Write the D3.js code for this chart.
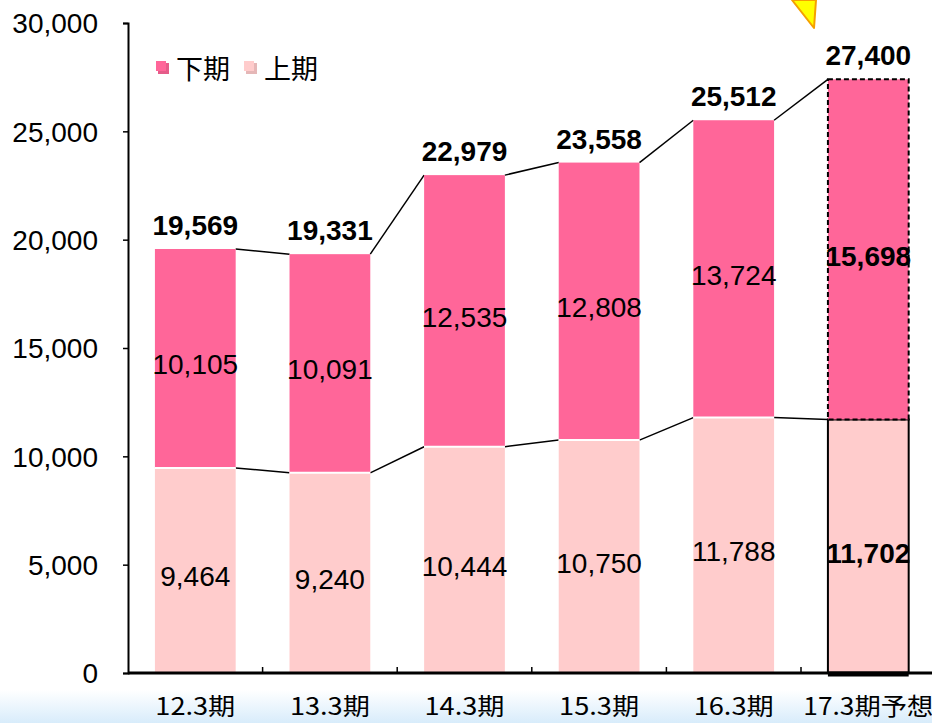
<!DOCTYPE html>
<html><head><meta charset="utf-8">
<script src="https://cdn.jsdelivr.net/npm/d3@7"></script>
<style>html,body{margin:0;padding:0;background:#fff;}svg{display:block;}</style>
</head><body>
<svg id="c" width="932" height="723"></svg>
<script>
const categories = ["12.3期","13.3期","14.3期","15.3期","16.3期","17.3期予想"];
const firstHalf  = [9464, 9240, 10444, 10750, 11788, 11702];   // 上期
const secondHalf = [10105, 10091, 12535, 12808, 13724, 15698]; // 下期
const totals     = [19569, 19331, 22979, 23558, 25512, 27400];
const yTicks = [0, 5000, 10000, 15000, 20000, 25000, 30000];
const legendNames = ["下期", "上期"];

(function(){
const W = 932, H = 723;
const svg = d3.select("#c");
const defs = svg.append("defs");
const grad = defs.append("linearGradient").attr("id","bg").attr("x1",0).attr("y1",0).attr("x2",0).attr("y2",1);
grad.append("stop").attr("offset","0").attr("stop-color","#ffffff");
grad.append("stop").attr("offset","1").attr("stop-color","#d8ecfb");
svg.append("rect").attr("x",0).attr("y",690).attr("width",W).attr("height",33).attr("fill","url(#bg)");

const mLeft = 128, mBottom = 673, mTop = 23;
const x = d3.scaleBand().domain(categories).range([mLeft, mLeft + 6*134.6]).paddingInner(0.4).paddingOuter(0.2);
const y = d3.scaleLinear().domain([0, 30000]).range([mBottom, mTop]);

const C2 = "#ff6699", C1 = "#ffcccc";
const numFont = "'Liberation Sans', Arial, sans-serif";
const jpFont = "'Noto Sans CJK JP', sans-serif";
const fmt = d3.format(",");

// Connecting lines
const lineG = svg.append("g").attr("stroke","#000").attr("stroke-width",1.5).attr("fill","none");
for (let i = 0; i < categories.length - 1; i++) {
  const x1 = x(categories[i]) + x.bandwidth(), x2 = x(categories[i+1]);
  lineG.append("line").attr("x1",x1).attr("x2",x2).attr("y1",y(totals[i])).attr("y2",y(totals[i+1]));
  lineG.append("line").attr("x1",x1).attr("x2",x2).attr("y1",y(firstHalf[i])).attr("y2",y(firstHalf[i+1]));
}

// Bars
const n = categories.length;
categories.forEach((c, i) => {
  const last = i === n - 1;
  const bx = x(c), bw = x.bandwidth();
  svg.append("rect").attr("x",bx).attr("y",y(firstHalf[i])).attr("width",bw)
    .attr("height",y(0)-y(firstHalf[i])).attr("fill",C1)
    .attr("stroke", last ? "#000" : "none").attr("stroke-width",2);
  svg.append("rect").attr("x",bx).attr("y",y(totals[i])).attr("width",bw)
    .attr("height",y(firstHalf[i])-y(totals[i])).attr("fill",C2)
    .attr("stroke", last ? "#000" : "none").attr("stroke-width",2)
    .attr("stroke-dasharray", last ? "5,3" : null);
  if (!last) {
    svg.append("line").attr("x1",bx).attr("x2",bx+bw).attr("y1",y(firstHalf[i])).attr("y2",y(firstHalf[i]))
      .attr("stroke","#fff").attr("stroke-width",2);
  }
  const cx = bx + bw/2;
  const off = last ? 17 : 16;
  svg.append("text").attr("x",cx).attr("y",(y(0)+y(firstHalf[i]))/2 + off)
    .attr("text-anchor","middle").attr("font-family",numFont).attr("font-size",28)
    .attr("font-weight", last ? "bold" : "normal").attr("fill","#000").text(fmt(firstHalf[i]));
  svg.append("text").attr("x",cx).attr("y",(y(firstHalf[i])+y(totals[i]))/2 + off)
    .attr("text-anchor","middle").attr("font-family",numFont).attr("font-size",28)
    .attr("font-weight", last ? "bold" : "normal").attr("fill","#000").text(fmt(secondHalf[i]));
  svg.append("text").attr("x",cx).attr("y",y(totals[i]) - 14)
    .attr("text-anchor","middle").attr("font-family",numFont).attr("font-size",28)
    .attr("font-weight","bold").attr("fill","#000").text(fmt(totals[i]));
});

// Y axis
const yAxis = svg.append("g").attr("transform",`translate(${mLeft},0)`)
  .call(d3.axisLeft(y).tickValues(yTicks).tickFormat(fmt).tickSize(5).tickPadding(25));
yAxis.select(".domain").attr("stroke","#000").attr("stroke-width",2);
yAxis.selectAll(".tick line").attr("stroke","#000").attr("stroke-width",1.5);
yAxis.selectAll("text").attr("font-family",numFont).attr("font-size",28).attr("fill","#000").attr("dy","0.35em");

// X axis
const xAxisY = mBottom;
svg.append("line").attr("x1",mLeft).attr("x2",W).attr("y1",xAxisY).attr("y2",xAxisY).attr("stroke","#000").attr("stroke-width",3);
const step = x.step();
for (let i = 1; i <= n; i++) {
  const tx = mLeft + i*step;
  svg.append("line").attr("x1",tx).attr("x2",tx).attr("y1",xAxisY).attr("y2",xAxisY-6).attr("stroke","#000").attr("stroke-width",1.5);
}
svg.append("line").attr("x1",x(categories[n-1])).attr("x2",x(categories[n-1])+x.bandwidth())
  .attr("y1",xAxisY+1).attr("y2",xAxisY+1).attr("stroke","#000").attr("stroke-width",5);
categories.forEach(c => {
  svg.append("text").attr("x",x(c)+x.bandwidth()/2).attr("y",715).attr("text-anchor","middle")
    .attr("font-family",jpFont).attr("font-size",24).attr("fill","#000")
    .attr("textLength", c.length > 5 ? 130 : 80).attr("lengthAdjust","spacingAndGlyphs").text(c);
});

// Legend
const lg = svg.append("g");
const legColors = [C2, C1];
const legX = [157, 245];
legendNames.forEach((nm, i) => {
  lg.append("rect").attr("x",legX[i]+1).attr("y",63).attr("width",11).attr("height",11).attr("fill", d3.color(legColors[i]).darker(0.3));
  lg.append("rect").attr("x",legX[i]-1).attr("y",61).attr("width",10).attr("height",10).attr("fill",legColors[i]);
  lg.append("text").attr("x",legX[i]+19).attr("y",79).attr("font-family",jpFont).attr("font-size",27)
    .attr("fill","#000").text(nm);
});

// Yellow callout pointer
svg.append("polygon").attr("points","792,0 816,0 814,28").attr("fill","#ffff00")
  .attr("stroke","#f5a000").attr("stroke-width",2).attr("stroke-linejoin","round");
})();
</script>
</body></html>
